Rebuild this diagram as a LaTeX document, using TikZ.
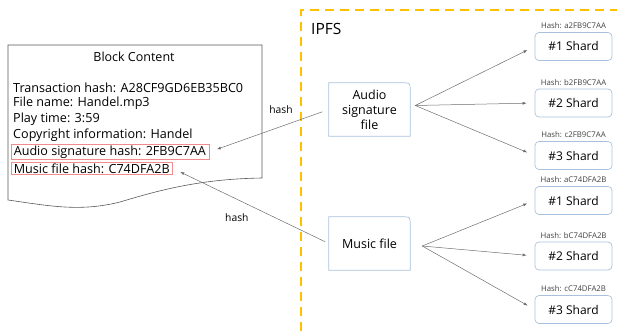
\documentclass[tikz,border=0pt]{standalone}
\usepackage{fontspec}
\setmainfont{Open Sans}
\usepackage{xcolor}
\usepackage{tikz}
\usetikzlibrary{arrows.meta,positioning}

\definecolor{ipfsyellow}{HTML}{FFC000}
\definecolor{boxblue}{HTML}{A9C1DC}
\definecolor{linegray}{HTML}{6E6E6E}
\definecolor{markred}{HTML}{F28C8C}

\begin{document}
\begin{tikzpicture}[
    x=1pt, y=-1pt,
    field/.style={anchor=west, inner sep=0pt, font=\fontsize{12.6}{14}\selectfont},
    marked/.style={draw=markred, line width=0.6pt, inner xsep=3pt, inner ysep=1pt},
    filebox/.style={minimum width=81pt, minimum height=53pt, align=center, inner sep=0pt, font=\fontsize{12.5}{15}\selectfont},
    fileedge/.style={draw=boxblue, line width=0.7pt},
    shard/.style={draw=boxblue, line width=0.7pt, rounded corners=4pt, minimum width=77pt, minimum height=28pt, font=\fontsize{12}{14}\selectfont},
    hashlabel/.style={inner sep=0pt, font=\fontsize{7.8}{9}\selectfont, text=black!75},
    arrow/.style={-{Latex[length=4pt,width=3pt]}, draw=linegray, line width=0.5pt}
]
\useasboundingbox (0,0) rectangle (617,331);

% IPFS area
\draw[ipfsyellow, line width=2.2pt, dash pattern=on 9pt off 6pt] (301,331) -- (301,10) -- (617,10);
\node[anchor=west, inner sep=0pt, font=\fontsize{15.5}{17}\selectfont] (ipfs) at (311,29) {IPFS};

% block content sheet
\draw[black!65, line width=0.6pt] (8,45) -- (262,45) -- (262,178)
    .. controls (200,179) and (160,190) .. (120,202)
    .. controls (80,212) and (50,206) .. (8,200) -- cycle;
\node[font=\fontsize{12.5}{14}\selectfont] (title) at (134,57) {Block Content};
\node[field] (txhash) at (13,88) {Transaction hash: A28CF9GD6EB35BC0};
\node[field] (fname) at (13,103.5) {File name: Handel.mp3};
\node[field] (ptime) at (13,119.5) {Play time: 3:59};
\node[field] (copyr) at (13,135.5) {Copyright information: Handel};
\node[field, marked] (sighash) at (10.5,152) {Audio signature hash: 2FB9C7AA};
\node[field, marked] (mfhash) at (10.5,168.5) {Music file hash: C74DFA2B};

% files in IPFS
\node[filebox] (afile) at (369.5,109.5) {Audio\\signature\\file};
\node[filebox] (mfile) at (369.5,243.5) {Music file};
\foreach \f in {afile,mfile}
  \draw[fileedge] (\f.south west) -- (\f.north west) -- ([xshift=-8pt]\f.north east)
      .. controls (\f.north east) .. ([yshift=-8pt]\f.north east) -- (\f.south east) -- cycle;

% shards
\node[shard] (as1) at (573.5,46.5) {\#1 Shard};
\node[shard] (as2) at (573.5,103) {\#2 Shard};
\node[shard] (as3) at (573.5,155.5) {\#3 Shard};
\node[shard] (ms1) at (573.5,200.5) {\#1 Shard};
\node[shard] (ms2) at (573.5,256) {\#2 Shard};
\node[shard] (ms3) at (573.5,309.5) {\#3 Shard};

\node[hashlabel, above=3pt of as1] (ash1) {Hash: a2FB9C7AA};
\node[hashlabel, above=3pt of as2] (ash2) {Hash: b2FB9C7AA};
\node[hashlabel, above=3pt of as3] (ash3) {Hash: c2FB9C7AA};
\node[hashlabel, above=3pt of ms1] (msh1) {Hash: aC74DFA2B};
\node[hashlabel, above=3pt of ms2] (msh2) {Hash: bC74DFA2B};
\node[hashlabel, above=3pt of ms3] (msh3) {Hash: cC74DFA2B};

% splitting
\coordinate (afork) at ([xshift=5pt,yshift=4pt]afile.east);
\coordinate (mfork) at ([xshift=12pt,yshift=-2.5pt]mfile.east);
\foreach \s in {as1,as2,as3}
  \draw[arrow, shorten >=8pt] (afork) -- (\s.west);
\foreach \s in {ms1,ms2,ms3}
  \draw[arrow, shorten >=8pt] (mfork) -- (\s.west);

% hashes back into the block
\draw[arrow, shorten <=7pt, shorten >=8pt] (afile.west) -- node[pos=0.4, above=9pt, font=\fontsize{10.3}{12}\selectfont]{hash} (sighash.east);
\draw[arrow, shorten <=4pt, shorten >=8pt] (mfile.west) -- node[pos=0.59, below=11pt, font=\fontsize{10.3}{12}\selectfont]{hash} (mfhash.east);
\end{tikzpicture}
\end{document}
